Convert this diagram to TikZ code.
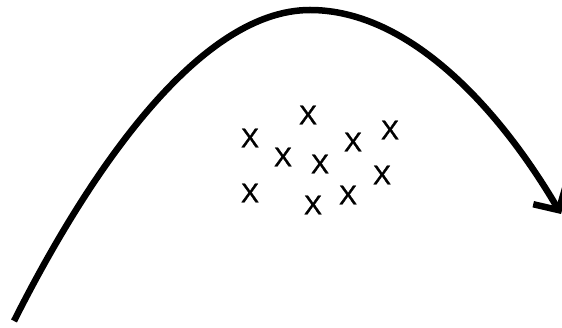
\documentclass[tikz,border=0pt]{standalone}
\usepackage{fontspec}
\setmainfont{Liberation Sans}
\newfontfamily\xfont[FakeBold=1.2]{Liberation Sans}
\usetikzlibrary{arrows.meta}
\begin{document}
\begin{tikzpicture}[x=1pt,y=-1pt,
  xmark/.style={inner sep=0pt,font=\xfont\fontsize{27}{27}\selectfont,text=black},
  curvepath/.style={line width=6.5pt,black,-{Straight Barb[length=18pt,width=38pt,line width=6.5pt]}}]
\useasboundingbox (0,0) rectangle (562,328);
\coordinate (s) at (14,321);
\coordinate (p) at (310,10);
\coordinate (e) at (561,214);
\draw[curvepath] (s) .. controls (90,170) and (200,10) .. (p)
  .. controls (410,10) and (500,110) .. (e);
\node[xmark] (x1) at (308,115) {X};
\node[xmark] (x2) at (250,138) {X};
\node[xmark] (x3) at (390,130) {X};
\node[xmark] (x4) at (353,142) {X};
\node[xmark] (x5) at (283,157) {X};
\node[xmark] (x6) at (320,164) {X};
\node[xmark] (x7) at (382,175) {X};
\node[xmark] (x8) at (250,193) {X};
\node[xmark] (x9) at (348,195) {X};
\node[xmark] (x10) at (313,205) {X};
\end{tikzpicture}
\end{document}
